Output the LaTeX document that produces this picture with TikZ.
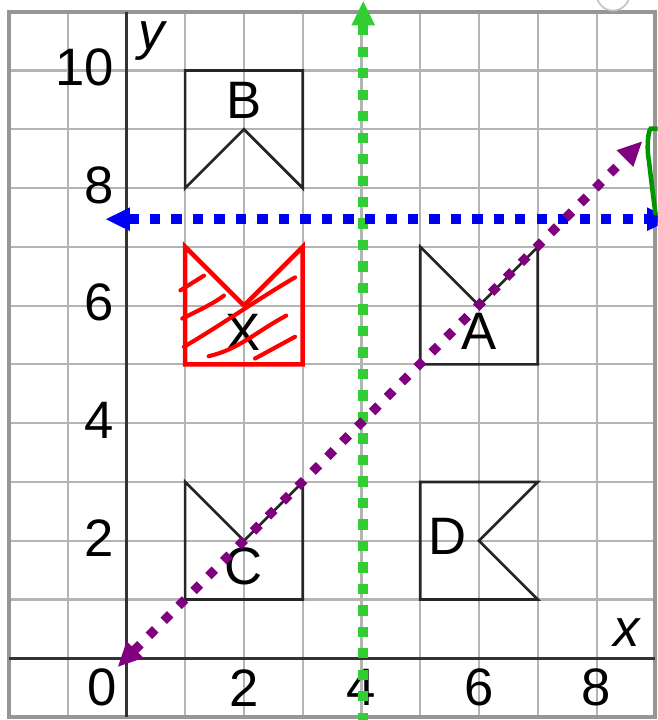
\documentclass[tikz,border=0pt]{standalone}
\usepackage{fontspec}
\setmainfont{Liberation Sans}
\usetikzlibrary{arrows.meta}
\definecolor{gridgray}{RGB}{180,180,180}
\definecolor{bordergray}{RGB}{150,150,150}
\definecolor{axisgray}{RGB}{50,50,50}
\definecolor{dotgreen}{RGB}{50,205,50}
\definecolor{dotblue}{RGB}{0,0,245}
\definecolor{dotpurple}{RGB}{128,0,128}
\definecolor{penred}{RGB}{255,0,0}
\definecolor{pengreen}{RGB}{0,150,0}

\begin{document}
\begin{tikzpicture}[
  every node/.style={font=\fontsize{25.5}{28}\selectfont, inner sep=0pt},
  flag/.style={draw=black!85, line width=1.3pt},
  hatch/.style={penred, line width=2pt, line cap=round},
  dotline/.style={line width=5pt, dash pattern=on 5pt off 5.4pt},
  bigtri/.tip={Triangle[length=12pt,width=10.5pt]}
]
\useasboundingbox (-2.15,-1.05) rectangle (9.04,11.2);
\clip (-2.15,-1.05) rectangle (9.04,11.2);

% grid and axes
\draw[gridgray, line width=1pt] (-2,-1) grid (9,11);
\draw[bordergray, line width=2pt] (-2,-1) rectangle (9,11);
\draw[axisgray, line width=1.4pt] (-2,0) -- (9,0);
\draw[axisgray, line width=1.4pt] (0,-1) -- (0,11);
\draw[gridgray!80, fill=white, line width=0.8pt] (8.28,11.3) circle (0.28);

\node (x0) at (-0.42,-0.5) {0};
\foreach \v in {2,4,6,8}
  \node (x\v) at (\v,-0.5) {\v};
\foreach \v in {2,4,6,8,10}
  \node[anchor=east] (y\v) at (-0.2,\v+0.05) {\v};
\node (xname) at (8.52,0.44) {\itshape x};
\node (yname) at (0.43,10.5) {\itshape y};

% flags
\draw[flag] (1,8) -- (1,10) -- (3,10) -- (3,8) -- (2,9) -- cycle;
\node (B) at (2,9.5) {B};
\draw[flag] (5,5) -- (5,7) -- (6,6) -- (7,7) -- (7,5) -- cycle;
\node (A) at (6,5.56) {A};
\draw[flag] (1,1) -- (1,3) -- (2,2) -- (3,3) -- (3,1) -- cycle;
\node (C) at (2,1.56) {C};
\draw[flag] (7,3) -- (5,3) -- (5,1) -- (7,1) -- (6,2) -- cycle;
\node (D) at (5.47,2.07) {D};

% shape X, drawn in red
\draw[flag] (1,7) -- (2,6) -- (3,7);
\node (X) at (1.98,5.55) {X};
\draw[penred, line width=2.2pt] (1,5) -- (1,7) -- (2,6) -- (3,7) -- (3,5) -- cycle;
\draw[hatch] (0.92,6.26) -- (1.32,6.51);
\draw[hatch] (0.95,5.78) .. controls (1.3,5.95) and (1.5,6.05) .. (1.66,6.17);
\draw[hatch] (0.98,5.30) .. controls (1.5,5.6) and (2.3,6.15) .. (2.87,6.48);
\draw[hatch] (1.40,5.14) .. controls (1.9,5.25) and (2.2,5.55) .. (2.72,5.83);
\draw[hatch] (2.19,5.10) -- (2.87,5.47);

% lines of symmetry
\coordinate (g0) at (4.03,-1.1);
\coordinate (g1) at (4.03,11.19);
\coordinate (b0) at (-0.36,7.47);
\coordinate (b1) at (9.28,7.47);
\coordinate (p0) at (-0.15,-0.15);
\coordinate (p1) at (8.78,8.8);
\draw[dotline, dotgreen, -bigtri] (g0) -- (g1);
\draw[dotline, dotblue, bigtri-bigtri] (b0) -- (b1);
\draw[dotline, dotpurple, line width=4.4pt, dash pattern=on 4.4pt off 5.8pt, bigtri-bigtri] (p0) -- (p1);

\draw[pengreen, line width=2.2pt, line cap=round] (9.04,9.01) -- (8.92,9.01)
  .. controls (8.86,8.95) and (8.86,8.6) .. (8.89,8.47)
  .. controls (8.92,8.2) and (8.96,7.9) .. (9.0,7.57);
\end{tikzpicture}
\end{document}
